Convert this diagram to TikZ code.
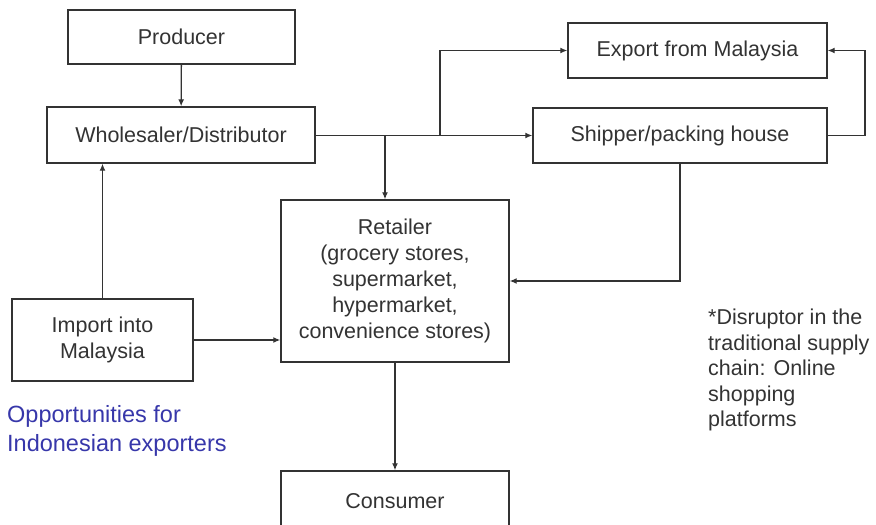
\documentclass[tikz,border=0pt]{standalone}
\usepackage{fontspec}
\setmainfont{Liberation Sans}
\usetikzlibrary{arrows.meta}
\definecolor{ink}{RGB}{51,51,51}
\definecolor{oppblue}{RGB}{55,55,170}
\tikzset{
    box/.style={draw=ink, line width=1.4pt, text=ink, inner sep=0pt, align=center},
    link/.style={draw=ink, line width=1.3pt, -{Latex[length=7pt,width=6pt]}}
}

\begin{document}
\begin{tikzpicture}[x=1pt, y=-1pt]
   \tikzstyle{every node}=[font=\fontsize{21.5}{26}\selectfont]
   \clip (0,0) rectangle (876,525);
   \fill[white] (0,0) rectangle (876,525);

   % Boxes
   \node[box, minimum width=227, minimum height=54] (producer) at (181.5,37) {Producer};
   \node[box, minimum width=268, minimum height=56] (wholesaler) at (181,135) {Wholesaler/Distributor};
   \node[box, minimum width=259, minimum height=55] (export) at (697.5,50.5) {Export from Malaysia};
   \node[box, minimum width=294, minimum height=55] (shipper) at (680,135.5) {Shipper/packing house};
   \node[box, minimum width=228, minimum height=162] (retailer) at (395,281)
      {Retailer\\(grocery stores,\\supermarket,\\hypermarket,\\convenience stores)};
   \node[box, minimum width=181, minimum height=82] (import) at (102.5,340) {Import into\\Malaysia};
   \node[box, minimum width=228, minimum height=60] (consumer) at (395,501) {Consumer};

   % Notes
   \node[text=oppblue, align=left, anchor=north west, inner sep=0pt,
         font=\fontsize{23.5}{29}\selectfont] (opp) at (7,405) {Opportunities for\\Indonesian exporters};
   \node[text=ink, align=left, anchor=north west, inner sep=0pt,
         font=\fontsize{21.5}{25.5}\selectfont] (disrupt) at (708,309)
      {*Disruptor in the\\traditional supply\\chain: Online\\shopping\\platforms};

   % Junctions
   \coordinate (split1) at (385,135.5);
   \coordinate (split2) at (440,135.5);
   \coordinate (loop) at (865,135.5);

   % Links
   \draw[link] (producer) -- (wholesaler);
   \draw[link] (wholesaler.east |- split1) -- (shipper.west);
   \draw[link] (split1) -- (split1 |- retailer.north);
   \draw[link] (split2) |- (export.west);
   \draw[link] (shipper.east) -- (loop) |- (export.east);
   \draw[link] (shipper.south) |- (retailer.east);
   \draw[link] (import.east) -- (import.east -| retailer.west);
   \draw[link] (import.north) -- (import.north |- wholesaler.south);
   \draw[link] (retailer) -- (consumer);

\end{tikzpicture}
\end{document}
